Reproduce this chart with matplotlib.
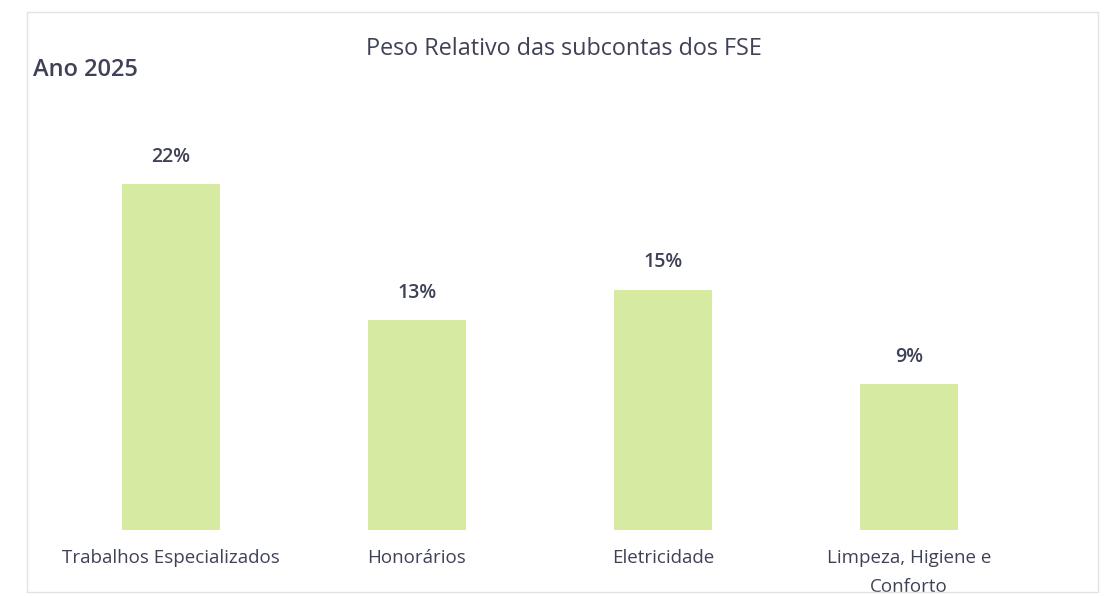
import matplotlib.pyplot as plt
from matplotlib.patches import Rectangle

# data
categories = ['Trabalhos Especializados', 'Honorários', 'Eletricidade', 'Limpeza, Higiene e\nConforto']
pesos = [21.6, 13.1, 15.0, 9.1]

plt.rcParams['font.family'] = ['Open Sans', 'DejaVu Sans']
txt_color = '#3f4257'
bar_color = '#d6eaa2'

fig = plt.figure(figsize=(11.05, 5.96), dpi=100)
ax = fig.add_axes([0.0434, 0.1107, 0.8905, 0.671])

x = range(len(categories))
bars = ax.bar(x, pesos, width=0.395, color=bar_color)
for b, v in zip(bars, pesos):
    ax.text(b.get_x() + b.get_width() / 2, v + 1.1, '{:.0f}%'.format(v),
            ha='center', va='bottom', fontsize=14, fontweight='semibold', color=txt_color)

ax.set_xlim(-0.5, 3.5)
ax.set_ylim(0, 25)
ax.set_xticks(list(x))
ax.set_xticklabels(categories, fontsize=13.5, color=txt_color, linespacing=1.75)
ax.tick_params(axis='x', length=0, pad=14)
ax.set_yticks([])
for s in ax.spines.values():
    s.set_visible(False)

fig.text(0.51, 0.918, 'Peso Relativo das subcontas dos FSE', ha='center', va='center',
         fontsize=16.8, color=txt_color)
fig.text(0.03, 0.882, 'Ano 2025', ha='left', va='center', fontsize=17,
         fontweight='semibold', color=txt_color)

fig.patches.append(Rectangle((0.024, 0.007), 0.97, 0.973, transform=fig.transFigure,
                             fill=False, edgecolor='#e2e2e2', linewidth=1))

plt.savefig('out.png', dpi=100)
